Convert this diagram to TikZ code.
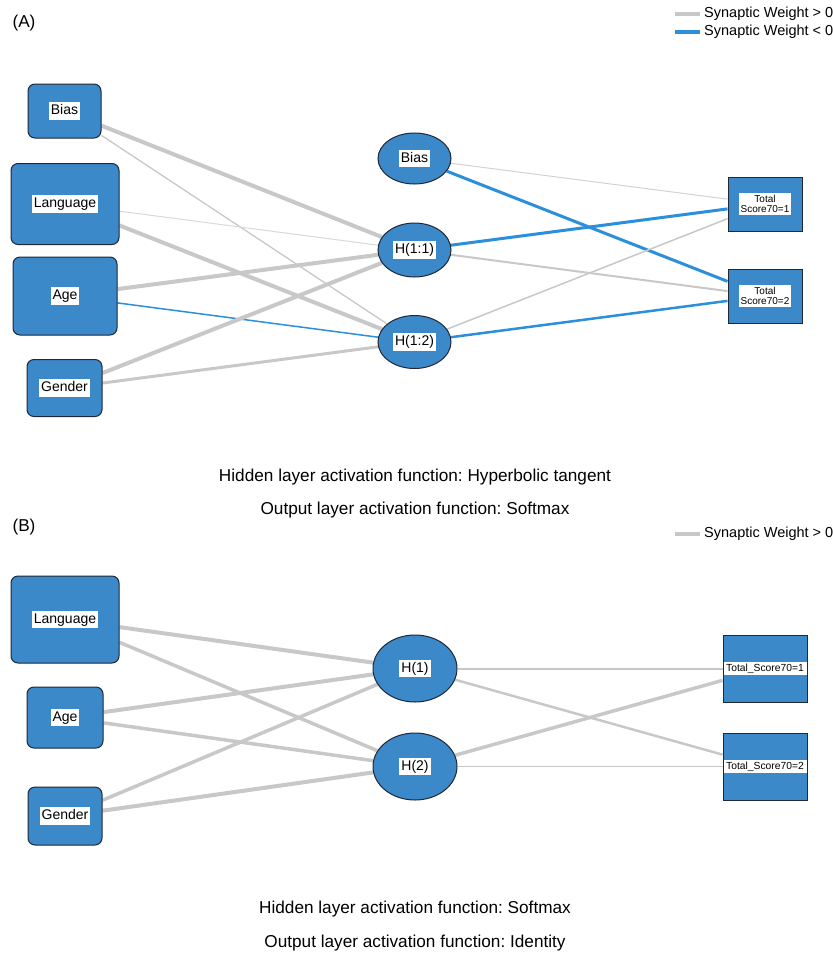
\documentclass[tikz,border=0pt]{standalone}
\usepackage{fontspec}
\setmainfont{Liberation Sans}
\usetikzlibrary{shapes.geometric,backgrounds}
\definecolor{nodeblue}{RGB}{59,137,201}
\definecolor{edgeblue}{RGB}{43,143,219}
\definecolor{edgegray}{RGB}{200,200,200}
\definecolor{borderdark}{RGB}{30,40,55}
\frenchspacing
\begin{document}
\begin{tikzpicture}[x=1pt,y=-1pt,
  inbox/.style={draw=borderdark, line width=1pt, fill=nodeblue, rounded corners=7pt, inner sep=0pt},
  hid/.style={ellipse, draw=borderdark, line width=1pt, fill=nodeblue, inner sep=0pt},
  outbox/.style={draw=borderdark, line width=1pt, fill=nodeblue, inner sep=0pt},
  lab/.style={fill=white, inner xsep=2pt, inner ysep=2pt, font=\fontsize{14}{16}\selectfont, text height=10.5pt, text depth=3pt},
  slab/.style={fill=white, inner xsep=2pt, inner ysep=2pt, font=\fontsize{10}{10.5}\selectfont, align=center},
  blab/.style={fill=white, inner xsep=1pt, inner ysep=2pt, minimum width=83pt, font=\fontsize{10.3}{11}\selectfont},
  posw/.style={draw=edgegray},
  negw/.style={draw=edgeblue},
  captext/.style={font=\fontsize{17.2}{19}\selectfont},
  legtext/.style={font=\fontsize{14.5}{16}\selectfont, anchor=west, inner sep=0pt},
]
\begin{scope}[on background layer]
  \fill[white] (0,0) rectangle (833,954);
\end{scope}
\useasboundingbox (0,0) rectangle (833,954);

% ---------- Panel A ----------
\node[captext] (tA) at (24,23) {(A)};
\coordinate (lgA1a) at (675,14); \coordinate (lgA1b) at (700,14);
\coordinate (lgA2a) at (675,32); \coordinate (lgA2b) at (700,32);
\node[legtext] (ltA1) at (704,14) {Synaptic Weight > 0};
\node[legtext] (ltA2) at (704,32) {Synaptic Weight < 0};
\draw[posw, line width=4pt] (lgA1a) -- (lgA1b);
\draw[negw, line width=4pt] (lgA2a) -- (lgA2b);

\node[inbox, minimum width=73pt, minimum height=54pt, label={[lab]center:Bias}] (aib) at (64.5,111) {};
\node[inbox, minimum width=108pt, minimum height=81pt, label={[lab]center:Language}] (ail) at (65,204) {};
\node[inbox, minimum width=104pt, minimum height=78pt, label={[lab]center:Age}] (aia) at (65,296) {};
\node[inbox, minimum width=75pt, minimum height=57pt, label={[lab]center:Gender}] (aig) at (64.5,388) {};

\node[hid, minimum width=73pt, minimum height=51pt, label={[lab]center:Bias}] (ahb) at (414.5,158.5) {};
\node[hid, minimum width=73pt, minimum height=54pt, label={[lab]center:H(1:1)}] (ah1) at (414.5,250) {};
\node[hid, minimum width=73pt, minimum height=53pt, label={[lab]center:H(1:2)}] (ah2) at (414.5,342) {};

\node[outbox, minimum width=74pt, minimum height=54pt, label={[slab]center:{Total\\Score70=1}}] (ao1) at (765,204) {};
\node[outbox, minimum width=74pt, minimum height=54pt, label={[slab]center:{Total\\Score70=2}}] (ao2) at (765,296) {};

\begin{scope}[on background layer]
  \draw[posw, line width=4pt] (aib) -- (ah1);
  \draw[posw, line width=1.3pt] (aib) -- (ah2);
  \draw[posw, line width=1pt, draw=edgegray!70] (ail) -- (ah1);
  \draw[posw, line width=4pt] (ail) -- (ah2);
  \draw[posw, line width=4pt] (aia) -- (ah1);
  \draw[negw, line width=1.5pt] (aia) -- (ah2);
  \draw[posw, line width=4pt] (aig) -- (ah1);
  \draw[posw, line width=3pt] (aig) -- (ah2);
  \draw[posw, line width=1pt, draw=edgegray!80] (ahb) -- (ao1);
  \draw[negw, line width=3pt] (ahb) -- (ao2);
  \draw[negw, line width=3pt] (ah1) -- (ao1);
  \draw[posw, line width=2pt] (ah1) -- (ao2);
  \draw[posw, line width=1.5pt] (ah2) -- (ao1);
  \draw[negw, line width=2.5pt] (ah2) -- (ao2);
\end{scope}

\node[captext] (cA1) at (415,477) {Hidden layer activation function: Hyperbolic tangent};
\node[captext] (cA2) at (415,510) {Output layer activation function: Softmax};

% ---------- Panel B ----------
\node[captext] (tB) at (24,527) {(B)};
\coordinate (lgB1a) at (675,534); \coordinate (lgB1b) at (700,534);
\node[legtext] (ltB1) at (704,534) {Synaptic Weight > 0};
\draw[posw, line width=4pt] (lgB1a) -- (lgB1b);

\node[inbox, minimum width=108pt, minimum height=87pt, label={[lab]center:Language}] (bil) at (65,619.5) {};
\node[inbox, minimum width=76pt, minimum height=61pt, label={[lab]center:Age}] (bia) at (65,717.5) {};
\node[inbox, minimum width=74pt, minimum height=58pt, label={[lab]center:Gender}] (big) at (65,816) {};

\node[hid, minimum width=84pt, minimum height=67pt, label={[lab]center:H(1)}] (bh1) at (415,668.5) {};
\node[hid, minimum width=84pt, minimum height=67pt, label={[lab]center:H(2)}] (bh2) at (415,766.5) {};

\node[outbox, minimum width=84pt, minimum height=67pt, label={[blab]center:Total\_Score70=1}] (bo1) at (765,668.5) {};
\node[outbox, minimum width=84pt, minimum height=67pt, label={[blab]center:Total\_Score70=2}] (bo2) at (765,766.5) {};

\begin{scope}[on background layer]
  \draw[posw, line width=4pt] (bil) -- (bh1);
  \draw[posw, line width=3.5pt] (bil) -- (bh2);
  \draw[posw, line width=4pt] (bia) -- (bh1);
  \draw[posw, line width=3.5pt] (bia) -- (bh2);
  \draw[posw, line width=3.5pt] (big) -- (bh1);
  \draw[posw, line width=4pt] (big) -- (bh2);
  \draw[posw, line width=2pt] (bh1) -- (bo1);
  \draw[posw, line width=2.5pt] (bh1) -- (bo2);
  \draw[posw, line width=3.5pt] (bh2) -- (bo1);
  \draw[posw, line width=1.3pt] (bh2) -- (bo2);
\end{scope}

\node[captext] (cB1) at (415,909) {Hidden layer activation function: Softmax};
\node[captext] (cB2) at (415,943) {Output layer activation function: Identity};
\end{tikzpicture}
\end{document}
